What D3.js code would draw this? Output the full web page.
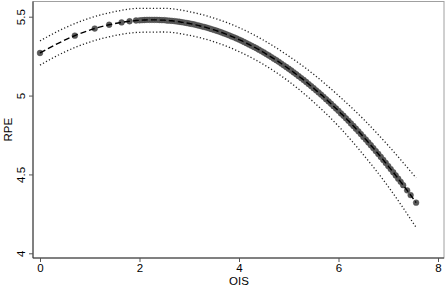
<!DOCTYPE html>
<html>
<head>
<meta charset="utf-8">
<script src="https://cdn.jsdelivr.net/npm/d3@7"></script>
<style>
  body { margin: 0; background: #fff; }
  text { font-family: "Liberation Sans", Arial, sans-serif; fill: #000; }
</style>
</head>
<body>
<div id="chart"></div>
<script>
// fitted values at each observed OIS
const ois = [0, 0.70, 1.10, 1.39, 1.64, 1.80, 1.93,
  2.0, 2.05, 2.1, 2.15, 2.2, 2.25, 2.3, 2.35, 2.4, 2.45, 2.5, 2.55, 2.6, 2.65, 2.7, 2.75, 2.8, 2.85, 2.9, 2.95,
  3.0, 3.05, 3.1, 3.15, 3.2, 3.25, 3.3, 3.35, 3.4, 3.45, 3.5, 3.55, 3.6, 3.65, 3.7, 3.75, 3.8, 3.85, 3.9, 3.95,
  4.0, 4.05, 4.1, 4.15, 4.2, 4.25, 4.3, 4.35, 4.4, 4.45, 4.5, 4.55, 4.6, 4.65, 4.7, 4.75, 4.8, 4.85, 4.9, 4.95,
  5.0, 5.05, 5.1, 5.15, 5.2, 5.25, 5.3, 5.35, 5.4, 5.45, 5.5, 5.55, 5.6, 5.65, 5.7, 5.75, 5.8, 5.85, 5.9, 5.95,
  6.0, 6.05, 6.1, 6.15, 6.2, 6.25, 6.3, 6.35, 6.4, 6.45, 6.5, 6.55, 6.6, 6.65, 6.7, 6.75, 6.8, 6.85, 6.9, 6.95,
  7.0, 7.05, 7.1, 7.15, 7.2, 7.25, 7.3, 7.38, 7.45, 7.56];
const rpeFit = [5.270, 5.380, 5.425, 5.449, 5.464, 5.471, 5.476,
  5.477, 5.478, 5.479, 5.480, 5.480, 5.480, 5.480, 5.480, 5.479, 5.478, 5.478, 5.476, 5.475, 5.474, 5.472, 5.470, 5.468, 5.465, 5.463, 5.460,
  5.457, 5.454, 5.451, 5.447, 5.443, 5.439, 5.435, 5.431, 5.426, 5.421, 5.416, 5.411, 5.406, 5.400, 5.394, 5.388, 5.382, 5.375, 5.369, 5.362,
  5.355, 5.348, 5.340, 5.332, 5.324, 5.316, 5.308, 5.300, 5.291, 5.282, 5.273, 5.263, 5.254, 5.244, 5.234, 5.224, 5.214, 5.203, 5.192, 5.181,
  5.170, 5.159, 5.147, 5.135, 5.123, 5.111, 5.099, 5.086, 5.073, 5.060, 5.047, 5.033, 5.020, 5.006, 4.992, 4.977, 4.963, 4.948, 4.933, 4.918,
  4.903, 4.887, 4.872, 4.856, 4.840, 4.823, 4.807, 4.790, 4.773, 4.756, 4.738, 4.721, 4.703, 4.685, 4.667, 4.648, 4.630, 4.611, 4.592, 4.573,
  4.553, 4.534, 4.514, 4.494, 4.473, 4.453, 4.432, 4.399, 4.369, 4.321];

// confidence band
const bandX = [0, 0.5, 1, 1.5, 2, 2.5, 3, 3.5, 4, 4.5, 5, 5.5, 6, 6.5, 7, 7.56];
const bandUpper = [5.347, 5.429, 5.491, 5.532, 5.553, 5.553, 5.532, 5.491, 5.431, 5.350, 5.250, 5.135, 5.000, 4.851, 4.683, 4.478];
const bandLower = [5.193, 5.277, 5.339, 5.380, 5.401, 5.403, 5.382, 5.341, 5.279, 5.196, 5.090, 4.959, 4.806, 4.625, 4.423, 4.164];

const xTicks = [0, 2, 4, 6, 8];
const yTicks = [4, 4.5, 5, 5.5];
const yTickLabels = ["4", "4.5", "5", "5.5"];

const width = 447, height = 287;
const frame = {left: 33, right: 444, top: 1.5, bottom: 258};

const svg = d3.select("#chart").append("svg")
  .attr("width", width)
  .attr("height", height);

const x = d3.scaleLinear().domain([0, 8]).range([40, 438]);
const y = d3.scaleLinear().domain([4, 5.5]).range([253.3, 16.7]);

// plot region box
svg.append("rect")
  .attr("x", frame.left)
  .attr("y", frame.top)
  .attr("width", frame.right - frame.left)
  .attr("height", frame.bottom - frame.top)
  .attr("fill", "none")
  .attr("stroke", "#a0a0a0")
  .attr("stroke-width", 1);

// axes
const xAxis = d3.axisBottom(x).tickValues(xTicks).tickSize(4).tickPadding(2).tickFormat(d3.format("d"));
const gx = svg.append("g")
  .attr("transform", `translate(0,${frame.bottom})`)
  .call(xAxis);
gx.select(".domain").attr("d", `M${frame.left},0H${frame.right}`).attr("stroke", "#333");
gx.selectAll(".tick line").attr("stroke", "#555");
gx.selectAll(".tick text").attr("font-size", 11.5).attr("fill", "#000");

const yAxis = d3.axisLeft(y).tickValues(yTicks).tickSize(4).tickFormat((d, i) => yTickLabels[i]);
const gy = svg.append("g")
  .attr("transform", `translate(${frame.left},0)`)
  .call(yAxis);
gy.select(".domain").attr("d", `M0,${frame.top}V${frame.bottom}`).attr("stroke", "#333");
gy.selectAll(".tick line").attr("stroke", "#555");
gy.selectAll(".tick text")
  .attr("font-size", 11.5)
  .attr("fill", "#000")
  .attr("x", null).attr("dy", null)
  .style("text-anchor", "middle")
  .attr("transform", "translate(-8,0) rotate(-90)");

// axis titles
svg.append("text")
  .attr("x", (x(4)))
  .attr("y", 285)
  .attr("text-anchor", "middle")
  .attr("font-size", 11.5)
  .text("OIS");

svg.append("text")
  .attr("transform", `translate(12,${(frame.top + frame.bottom) / 2}) rotate(-90)`)
  .attr("text-anchor", "middle")
  .attr("font-size", 11.5)
  .text("RPE");

// band lines
const bandLine = (vals) => d3.line()
  .x((d, i) => x(bandX[i]))
  .y((d, i) => y(vals[i]))
  .curve(d3.curveMonotoneX)(vals);

[bandUpper, bandLower].forEach(vals => {
  svg.append("path")
    .attr("d", bandLine(vals))
    .attr("fill", "none")
    .attr("stroke", "#222")
    .attr("stroke-width", 1.3)
    .attr("stroke-dasharray", "1.2,2.2");
});

// markers
svg.append("g").selectAll("circle")
  .data(ois)
  .join("circle")
  .attr("cx", d => x(d))
  .attr("cy", (d, i) => y(rpeFit[i]))
  .attr("r", 2.9)
  .attr("fill", "#5a5a5a")
  .attr("stroke", "#444")
  .attr("stroke-width", 0.4);

// fitted line, dashed
const fitLine = d3.line()
  .x(d => x(d))
  .y((d, i) => y(rpeFit[i]))
  .curve(d3.curveMonotoneX);

svg.append("path")
  .attr("d", fitLine(ois))
  .attr("fill", "none")
  .attr("stroke", "#000")
  .attr("stroke-width", 1.4)
  .attr("stroke-dasharray", "6,3");
</script>
</body>
</html>
